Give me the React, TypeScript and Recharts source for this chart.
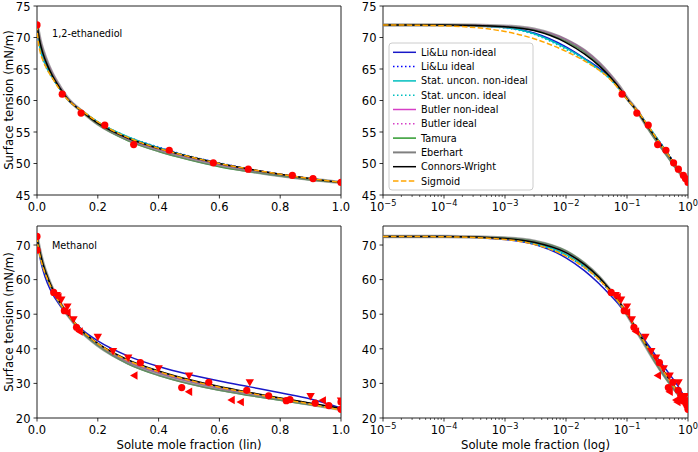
import React from 'react';
import { ComposedChart, Line, Scatter, XAxis, YAxis, ReferenceArea } from 'recharts';

// ---------- data ----------
const X_SAMPLES = [1e-5, 1e-4, 1e-3, 3e-3, 0.01, 0.02, 0.035, 0.05, 0.075, 0.1, 0.15, 0.2, 0.3, 0.4, 0.5, 0.6, 0.7, 0.8, 0.9, 1.0];

// 1,2-ethanediol model curves
const ETH_LILU_NONIDEAL = [72.0, 71.97, 71.6, 70.7, 68.5, 66.7, 65.1, 63.8, 61.9, 60.3, 58.3, 56.5, 54.1, 52.5, 51.1, 50.0, 49.1, 48.3, 47.6, 47.0];
const ETH_LILU_IDEAL = [72.0, 71.97, 71.6, 70.6, 68.4, 66.6, 65.0, 63.7, 61.8, 60.2, 58.3, 56.6, 54.2, 52.6, 51.2, 50.1, 49.1, 48.3, 47.6, 47.0];
const ETH_STAT_NONIDEAL = [72.0, 71.97, 71.6, 70.6, 68.3, 66.6, 64.9, 63.7, 61.8, 60.2, 58.3, 56.6, 54.2, 52.5, 51.1, 50.0, 49.0, 48.2, 47.6, 47.0];
const ETH_STAT_IDEAL = [72.0, 71.97, 71.5, 70.5, 68.1, 66.4, 64.8, 63.6, 61.8, 60.2, 58.3, 56.6, 54.2, 52.5, 51.1, 50.0, 49.0, 48.2, 47.6, 47.0];
const ETH_BUTLER_NONIDEAL = [72.0, 71.99, 71.8, 71.3, 69.7, 68.0, 66.0, 64.4, 62.2, 60.4, 58.2, 56.3, 53.8, 52.2, 50.9, 49.8, 48.9, 48.2, 47.5, 47.0];
const ETH_BUTLER_IDEAL = [72.0, 71.99, 71.8, 71.3, 69.6, 67.9, 65.9, 64.3, 62.1, 60.3, 58.2, 56.3, 53.9, 52.3, 51.0, 49.9, 49.0, 48.2, 47.5, 47.0];
const ETH_TAMURA = [72.0, 71.99, 71.75, 71.2, 69.4, 67.7, 65.7, 64.1, 62.0, 60.3, 58.1, 56.2, 53.6, 51.9, 50.6, 49.5, 48.7, 48.0, 47.4, 47.0];
const ETH_EBERHART = [72.0, 71.99, 71.8, 71.3, 69.6, 67.9, 65.9, 64.3, 62.2, 60.4, 58.2, 56.3, 53.8, 52.1, 50.8, 49.7, 48.8, 48.1, 47.5, 47.0];
const ETH_CONNORS = [72.0, 71.98, 71.7, 71.1, 69.2, 67.4, 65.5, 64.0, 62.0, 60.3, 58.2, 56.4, 54.0, 52.4, 51.1, 50.0, 49.1, 48.3, 47.6, 47.0];
const ETH_SIGMOID = [72.0, 71.85, 70.95, 69.8, 67.8, 66.3, 64.8, 63.6, 61.7, 60.2, 58.3, 56.6, 54.1, 52.4, 51.1, 50.0, 49.1, 48.3, 47.6, 47.0];

// Methanol model curves
const MEOH_LILU_NONIDEAL = [72.5, 72.42, 71.6, 70.2, 66.3, 62.6, 58.8, 56.0, 52.6, 49.8, 45.4, 42.3, 37.9, 34.9, 32.6, 30.7, 29.0, 27.3, 25.5, 22.9];
const MEOH_LILU_IDEAL = [72.5, 72.42, 71.7, 70.3, 66.9, 63.5, 59.9, 57.0, 53.2, 50.0, 45.0, 41.4, 36.4, 33.2, 30.8, 28.8, 27.1, 25.6, 24.1, 22.6];
const MEOH_STAT_NONIDEAL = [72.5, 72.43, 71.8, 70.6, 67.3, 63.9, 60.2, 57.2, 53.3, 50.1, 45.0, 41.4, 36.4, 33.2, 30.8, 28.8, 27.1, 25.6, 24.1, 22.6];
const MEOH_STAT_IDEAL = [72.5, 72.42, 71.7, 70.4, 67.0, 63.6, 60.0, 57.1, 53.2, 50.0, 45.0, 41.3, 36.3, 33.1, 30.7, 28.7, 27.0, 25.5, 24.0, 22.5];
const MEOH_BUTLER_NONIDEAL = [72.5, 72.46, 72.0, 71.1, 68.1, 64.6, 60.7, 57.5, 53.4, 50.0, 44.8, 41.2, 36.2, 33.0, 30.6, 28.6, 27.0, 25.5, 24.1, 22.5];
const MEOH_BUTLER_IDEAL = [72.5, 72.45, 71.95, 71.0, 67.9, 64.5, 60.6, 57.4, 53.4, 50.0, 44.8, 41.2, 36.3, 33.1, 30.7, 28.7, 27.1, 25.6, 24.1, 22.5];
const MEOH_TAMURA = [72.5, 72.47, 72.1, 71.2, 68.3, 64.8, 60.8, 57.6, 53.4, 49.9, 44.6, 40.9, 35.6, 32.3, 29.9, 28.0, 26.5, 25.1, 23.8, 22.5];
const MEOH_EBERHART = [72.5, 72.46, 72.0, 71.1, 68.1, 64.6, 60.7, 57.5, 53.4, 50.0, 44.7, 41.0, 35.9, 32.6, 30.2, 28.3, 26.8, 25.4, 24.0, 22.5];
const MEOH_CONNORS = [72.5, 72.45, 71.9, 70.8, 67.8, 64.4, 60.6, 57.5, 53.5, 50.2, 45.0, 41.6, 36.8, 33.6, 31.1, 29.1, 27.4, 25.8, 24.3, 22.8];
const MEOH_SIGMOID = [72.5, 72.4, 71.6, 70.2, 66.8, 63.5, 60.0, 57.1, 53.3, 50.1, 45.1, 41.5, 36.6, 33.4, 30.9, 28.9, 27.2, 25.6, 24.0, 22.3];

// measured points
const ETH_POINTS_X = [0, 0.083, 0.145, 0.223, 0.318, 0.435, 0.58, 0.695, 0.84, 0.908, 1.0];
const ETH_POINTS_Y = [72.0, 61.0, 58.0, 56.1, 53.0, 52.1, 50.1, 49.1, 48.1, 47.6, 47.0];

const MEOH_CIRCLE_X = [0, 0, 0.055, 0.09, 0.13, 0.34, 0.476, 0.565, 0.69, 0.762, 0.82, 0.832, 0.915, 0.96, 1.0, 1.0];
const MEOH_CIRCLE_Y = [72.5, 68.5, 56.3, 51.0, 46.2, 36.0, 28.8, 30.3, 28.0, 26.4, 25.0, 25.3, 24.3, 23.6, 22.5, 24.6];
const MEOH_TRIDOWN_X = [0.065, 0.08, 0.1, 0.12, 0.2, 0.25, 0.3, 0.4, 0.5, 0.7, 0.9, 1.0];
const MEOH_TRIDOWN_Y = [55.5, 54.2, 52.2, 48.5, 43.4, 39.3, 37.4, 34.3, 32.2, 30.3, 26.3, 25.0];
const MEOH_TRILEFT_X = [0.07, 0.1, 0.14, 0.32, 0.5, 0.64, 0.67, 0.94, 1.0];
const MEOH_TRILEFT_Y = [55.0, 50.5, 45.0, 32.3, 27.6, 25.2, 24.6, 25.1, 23.0];

// axes ticks
const LIN_TICKS = [0, 0.2, 0.4, 0.6, 0.8, 1.0];
const LOG_MAJOR = [1e-5, 1e-4, 1e-3, 1e-2, 1e-1, 1];
const LOG_MINOR_MULTS = [2, 3, 4, 5, 6, 7, 8, 9];
const ETH_Y_TICKS = [45, 50, 55, 60, 65, 70, 75];
const MEOH_Y_TICKS = [20, 30, 40, 50, 60, 70];

// ---------- series styling ----------
const SERIES = [
  { key: 'liluNI', name: 'Li&Lu non-ideal', color: '#1818c8', dash: undefined as string | undefined, width: 1.5, opacity: 1 },
  { key: 'liluI', name: 'Li&Lu ideal', color: '#0000ff', dash: '1.5 2.5', width: 1.5, opacity: 1 },
  { key: 'statNI', name: 'Stat. uncon. non-ideal', color: '#00bfbf', dash: undefined, width: 1.5, opacity: 1 },
  { key: 'statI', name: 'Stat. uncon. ideal', color: '#00bfbf', dash: '1.5 2.5', width: 1.5, opacity: 1 },
  { key: 'butNI', name: 'Butler non-ideal', color: '#d63fc6', dash: undefined, width: 1.5, opacity: 1 },
  { key: 'butI', name: 'Butler ideal', color: '#d63fc6', dash: '1.5 2.5', width: 1.5, opacity: 1 },
  { key: 'tam', name: 'Tamura', color: '#2e9a2e', dash: undefined, width: 1.5, opacity: 1 },
  { key: 'eber', name: 'Eberhart', color: '#808080', dash: undefined, width: 3.5, opacity: 0.7 },
  { key: 'cw', name: 'Connors-Wright', color: '#000000', dash: undefined, width: 1.5, opacity: 1 },
  { key: 'sig', name: 'Sigmoid', color: '#ffa500', dash: '5.5 2.4', width: 1.5, opacity: 1 },
];

function buildTable(cols: number[][]) {
  return X_SAMPLES.map((x, i) => {
    const row: Record<string, number> = { x };
    SERIES.forEach((s, j) => { row[s.key] = cols[j][i]; });
    return row;
  });
}

const ETH_TABLE = buildTable([ETH_LILU_NONIDEAL, ETH_LILU_IDEAL, ETH_STAT_NONIDEAL, ETH_STAT_IDEAL, ETH_BUTLER_NONIDEAL, ETH_BUTLER_IDEAL, ETH_TAMURA, ETH_EBERHART, ETH_CONNORS, ETH_SIGMOID]);
const MEOH_TABLE = buildTable([MEOH_LILU_NONIDEAL, MEOH_LILU_IDEAL, MEOH_STAT_NONIDEAL, MEOH_STAT_IDEAL, MEOH_BUTLER_NONIDEAL, MEOH_BUTLER_IDEAL, MEOH_TAMURA, MEOH_EBERHART, MEOH_CONNORS, MEOH_SIGMOID]);

const zip = (xs: number[], ys: number[]) => xs.map((x, i) => ({ x, y: ys[i] }));

const LOG_TICKS: number[] = [];
LOG_MAJOR.forEach((m, i) => {
  LOG_TICKS.push(m);
  if (i < LOG_MAJOR.length - 1) LOG_MINOR_MULTS.forEach((k) => LOG_TICKS.push(m * k));
});

// ---------- drawing helpers ----------
const FONT = "'DejaVu Sans', sans-serif";
const TICK_FS = 11.5;

const LinXTick = (p: any) => (
  <g>
    <line x1={p.x} y1={p.y} x2={p.x} y2={p.y + 3.5} stroke="#000" strokeWidth={0.8} />
    <text x={p.x} y={p.y + 16.3} textAnchor="middle" fontSize={TICK_FS} fontFamily={FONT} fill="#000">
      {Number(p.payload.value).toFixed(1)}
    </text>
  </g>
);

const LogXTick = (p: any) => {
  const v = Number(p.payload.value);
  const e = Math.log10(v);
  const major = Math.abs(e - Math.round(e)) < 1e-6;
  if (!major) {
    return <line x1={p.x} y1={p.y} x2={p.x} y2={p.y + 2} stroke="#000" strokeWidth={0.6} />;
  }
  const ex = Math.round(e);
  return (
    <g>
      <line x1={p.x} y1={p.y} x2={p.x} y2={p.y + 3.5} stroke="#000" strokeWidth={0.8} />
      <text x={p.x} y={p.y + 16.3} textAnchor="middle" fontSize={TICK_FS} fontFamily={FONT} fill="#000">
        <tspan>10</tspan>
        <tspan dy={-5} fontSize={8.2}>{ex < 0 ? '\u2212' + Math.abs(ex) : String(ex)}</tspan>
      </text>
    </g>
  );
};

const YTick = (p: any) => (
  <g>
    <line x1={p.x} y1={p.y} x2={p.x - 3.5} y2={p.y} stroke="#000" strokeWidth={0.8} />
    <text x={p.x - 6.5} y={p.y + 4.7} textAnchor="end" fontSize={TICK_FS} fontFamily={FONT} fill="#000">
      {p.payload.value}
    </text>
  </g>
);

const CircleMark = (p: any) => <circle cx={p.cx} cy={p.cy} r={3.6} fill="#ff0000" />;
const TriDownMark = (p: any) => (
  <polygon points={`${p.cx - 4.2},${p.cy - 3.2} ${p.cx + 4.2},${p.cy - 3.2} ${p.cx},${p.cy + 4.2}`} fill="#ff0000" />
);
const TriLeftMark = (p: any) => (
  <polygon points={`${p.cx + 3.2},${p.cy - 4.2} ${p.cx + 3.2},${p.cy + 4.2} ${p.cx - 4.2},${p.cy}`} fill="#ff0000" />
);

type PointSet = { pts: { x: number; y: number }[]; shape: any };

function Panel(props: {
  left: number; top: number; w: number; h: number;
  table: Record<string, number>[]; sets: PointSet[]; log: boolean;
  yDomain: [number, number]; yTicks: number[];
}) {
  const { left, top, w, h, table, sets, log, yDomain, yTicks } = props;
  const ML = 40, MT = 5, MR = 12, MB = 30;
  const xDomain: [number, number] = log ? [1e-5, 1] : [0, 1];
  return (
    <div style={{ position: 'absolute', left: left - ML, top: top - MT }}>
      <ComposedChart width={w + ML + MR} height={h + MT + MB} data={table} margin={{ top: MT, right: MR, left: 0, bottom: 0 }}>
        <XAxis
          dataKey="x" type="number" scale={log ? 'log' : 'linear'} domain={xDomain}
          ticks={log ? LOG_TICKS : LIN_TICKS} interval={0} tickSize={0} tickMargin={0}
          axisLine={false} tickLine={false} height={MB} allowDataOverflow
          tick={log ? <LogXTick /> : <LinXTick />}
        />
        <YAxis
          type="number" domain={yDomain} ticks={yTicks} interval={0} width={ML}
          tickSize={0} tickMargin={0} axisLine={false} tickLine={false} allowDataOverflow
          tick={<YTick />}
        />
        {sets.map((s, i) => (
          <Scatter key={'s' + i} data={log ? s.pts.filter((d) => d.x > 0) : s.pts} dataKey="y" shape={s.shape} isAnimationActive={false} />
        ))}
        {SERIES.map((s) => (
          <Line
            key={s.key} dataKey={s.key} type="monotone" stroke={s.color} strokeWidth={s.width}
            strokeDasharray={s.dash} dot={false} activeDot={false} isAnimationActive={false}
            strokeOpacity={s.opacity}
          />
        ))}
        <ReferenceArea x1={xDomain[0]} x2={xDomain[1]} y1={yDomain[0]} y2={yDomain[1]} fill="none" fillOpacity={0} stroke="#222" strokeWidth={1} ifOverflow="visible" />
      </ComposedChart>
    </div>
  );
}

function LegendBox({ x, y }: { x: number; y: number }) {
  const rowH = 14.3;
  return (
    <g>
      <rect x={x} y={y} width={144} height={147} rx={3} ry={3} fill="#fff" fillOpacity={0.8} stroke="#cccccc" strokeWidth={1} />
      {SERIES.map((s, i) => {
        const cy = y + 9.3 + i * rowH;
        return (
          <g key={s.key}>
            <line x1={x + 4} x2={x + 27} y1={cy} y2={cy} stroke={s.color} strokeWidth={s.key === 'eber' ? 2 : 1.5} strokeDasharray={s.dash} />
            <text x={x + 32} y={cy + 3.5} fontSize={9.7} fontFamily={FONT} fill="#000">{s.name}</text>
          </g>
        );
      })}
    </g>
  );
}

export default function App() {
  const ethSets: PointSet[] = [{ pts: zip(ETH_POINTS_X, ETH_POINTS_Y), shape: CircleMark }];
  const meohSets: PointSet[] = [
    { pts: zip(MEOH_CIRCLE_X, MEOH_CIRCLE_Y), shape: CircleMark },
    { pts: zip(MEOH_TRIDOWN_X, MEOH_TRIDOWN_Y), shape: TriDownMark },
    { pts: zip(MEOH_TRILEFT_X, MEOH_TRILEFT_Y), shape: TriLeftMark },
  ];
  const LX = 37, RX = 383, W = 304, TY = 6, TH = 189, BY = 226, BH = 192;
  return (
    <div style={{ position: 'absolute', left: 0, top: 0, width: 698, height: 452, background: '#fff', overflow: 'hidden' }}>
      <Panel left={LX} top={TY} w={W} h={TH} table={ETH_TABLE} sets={ethSets} log={false} yDomain={[45, 75]} yTicks={ETH_Y_TICKS} />
      <Panel left={RX} top={TY} w={W + 1} h={TH} table={ETH_TABLE} sets={ethSets} log={true} yDomain={[45, 75]} yTicks={ETH_Y_TICKS} />
      <Panel left={LX} top={BY} w={W} h={BH} table={MEOH_TABLE} sets={meohSets} log={false} yDomain={[20, 75.5]} yTicks={MEOH_Y_TICKS} />
      <Panel left={RX} top={BY} w={W + 1} h={BH} table={MEOH_TABLE} sets={meohSets} log={true} yDomain={[20, 75.5]} yTicks={MEOH_Y_TICKS} />
      <svg width={698} height={452} style={{ position: 'absolute', left: 0, top: 0, pointerEvents: 'none' }}>
        <text x={52} y={36.5} fontSize={9.7} fontFamily={FONT} fill="#000">1,2-ethanediol</text>
        <text x={52} y={248.5} fontSize={9.7} fontFamily={FONT} fill="#000">Methanol</text>
        <text transform="translate(12.5,100) rotate(-90)" textAnchor="middle" fontSize={11.7} fontFamily={FONT} fill="#000">Surface tension (mN/m)</text>
        <text transform="translate(12.5,322) rotate(-90)" textAnchor="middle" fontSize={11.7} fontFamily={FONT} fill="#000">Surface tension (mN/m)</text>
        <text x={189} y={448.5} textAnchor="middle" fontSize={11.7} fontFamily={FONT} fill="#000">Solute mole fraction (lin)</text>
        <text x={535.5} y={448.5} textAnchor="middle" fontSize={11.7} fontFamily={FONT} fill="#000">Solute mole fraction (log)</text>
        <LegendBox x={389} y={43} />
      </svg>
    </div>
  );
}
